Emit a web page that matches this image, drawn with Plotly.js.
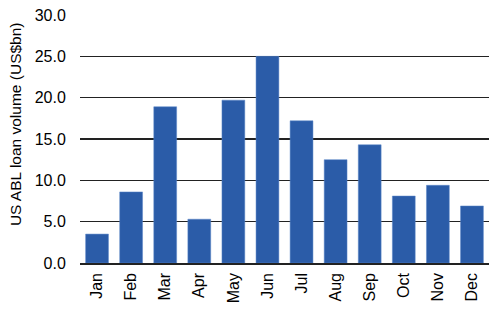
<!DOCTYPE html>
<html><head><meta charset="utf-8">
<script src="https://cdn.plot.ly/plotly-3.0.1.min.js"></script>
<style>body{margin:0;background:#fff}#c{width:500px;height:316px}</style>
</head><body><div id="c"></div>
<script>
var months = ["Jan","Feb","Mar","Apr","May","Jun","Jul","Aug","Sep","Oct","Nov","Dec"];
var volume = [3.5, 8.6, 18.9, 5.3, 19.7, 25.0, 17.2, 12.5, 14.3, 8.1, 9.4, 6.9];
var yTicks = [0, 5, 10, 15, 20, 25, 30];
var yTickText = ["0.0","5.0","10.0","15.0","20.0","25.0","30.0"];
var yTitle = "US ABL loan volume (US$bn)";

Plotly.newPlot("c", [{
  type: "bar", x: months, y: volume,
  marker: {color: "#2b5ca8", line: {color: "#5a86c8", width: 0.5}}
}], {
  width: 500, height: 316,
  margin: {l: 80, r: 11, t: 15, b: 53},
  paper_bgcolor: "#fff", plot_bgcolor: "#fff",
  bargap: 0.33,
  showlegend: false,
  font: {family: "Liberation Sans, Arial, sans-serif", color: "#000"},
  xaxis: {
    tickangle: -90, tickfont: {size: 16}, showgrid: false,
    showline: true, linecolor: "#222", linewidth: 1.6,
    ticks: "outside", ticklen: 2, tickcolor: "rgba(0,0,0,0)"
  },
  yaxis: {
    range: [0, 30], tickvals: yTicks, ticktext: yTickText,
    tickfont: {size: 16}, showgrid: true, gridcolor: "#222", gridwidth: 1.5,
    zeroline: false, showline: false,
    ticks: "outside", ticklen: 10, tickcolor: "rgba(0,0,0,0)"
  },
  annotations: [{
    text: yTitle, textangle: -90, showarrow: false,
    xref: "paper", yref: "paper", x: 0, y: 0.56,
    xanchor: "center", yanchor: "middle", xshift: -65,
    font: {size: 15.5, color: "#000"}
  }]
}, {staticPlot: true});
</script></body></html>
